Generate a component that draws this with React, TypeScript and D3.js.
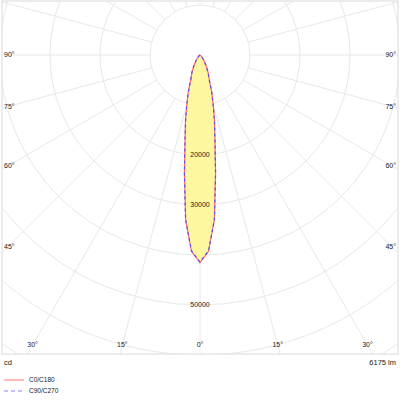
import React from 'react';
import * as d3 from 'd3';

// polar angles (deg from nadir) and luminous intensity (cd)
const angles = [0, 2.5, 5, 7.5, 10, 12.5, 15, 17.5, 20, 25, 30, 35, 40, 45, 50, 60, 70, 80, 90];
const c0c180 = [41500, 39300, 33000, 23800, 17300, 13400, 10200, 7800, 5600, 3800, 2400, 1400, 800, 450, 250, 80, 20, 5, 0];
const c90c270 = [41400, 39200, 33100, 23900, 17200, 13300, 10100, 7700, 5600, 3800, 2400, 1400, 800, 450, 250, 80, 20, 5, 0];

const ringValues = [10000, 20000, 30000, 40000, 50000, 60000, 70000];
const ringLabels = [20000, 30000, 50000];
const spokeAngles = d3.range(0, 360, 15);
const sideLabels = [90, 75, 60, 45];
const bottomLabels = [-30, -15, 0, 15, 30];

const legend = [
  { name: 'C0/C180', color: '#ff8a8a', dash: undefined },
  { name: 'C90/C270', color: '#8a84ff', dash: '4,3' },
];

const W = 400;
const H = 400;
const box = { x0: 2, y0: 1, x1: 398, y1: 354 };
const cx = 200;
const cy = 55;
const font = '"Liberation Sans", Arial, sans-serif';

const App: React.FC = () => {
  const r = d3.scaleLinear().domain([0, 10000]).range([0, 50]);
  const rad = (d: number) => (d * Math.PI) / 180;

  const curve = (vals: number[]) => {
    const pts: [number, number][] = [];
    for (let i = angles.length - 1; i >= 0; i--) pts.push([Math.PI + rad(angles[i]), r(vals[i])]);
    for (let i = 1; i < angles.length; i++) pts.push([Math.PI - rad(angles[i]), r(vals[i])]);
    return d3.lineRadial().curve(d3.curveLinear)(pts) || '';
  };

  // where a spoke (angle from nadir) meets a vertical / horizontal offset from the centre
  const sideY = (deg: number, dx: number) => cy + (dx / Math.sin(rad(deg))) * Math.cos(rad(deg));
  const bottomX = (deg: number, dy: number) => cx + dy * Math.tan(rad(deg));

  const txt = { fontFamily: font, fontSize: 7, fill: '#222' };

  return (
    <svg width={W} height={H} style={{ position: 'absolute', left: 0, top: 0, background: '#fff' }}>
      <defs>
        <clipPath id="plot">
          <rect x={box.x0} y={box.y0} width={box.x1 - box.x0} height={box.y1 - box.y0} />
        </clipPath>
      </defs>
      <g clipPath="url(#plot)">
        {ringValues.map(v => (
          <circle key={v} cx={cx} cy={cy} r={r(v)} fill="none" stroke="#e8e8e8" strokeWidth={1} />
        ))}
        {spokeAngles.map(a => (
          <line
            key={a}
            x1={cx + r(10000) * Math.sin(rad(a))}
            y1={cy + r(10000) * Math.cos(rad(a))}
            x2={cx + 600 * Math.sin(rad(a))}
            y2={cy + 600 * Math.cos(rad(a))}
            stroke="#e8e8e8"
            strokeWidth={1}
          />
        ))}
        <g transform={`translate(${cx},${cy})`}>
          <path d={curve(c0c180)} fill="#fdf7a0" stroke="none" />
          <path d={curve(c0c180)} fill="none" stroke="#ff6a6a" strokeWidth={1.2} />
          <path d={curve(c90c270)} fill="none" stroke="#5a4cf0" strokeWidth={1.2} strokeDasharray="3,3" />
        </g>
        {ringLabels.map(v => (
          <text key={v} x={cx} y={cy + r(v)} dy="0.35em" textAnchor="middle" {...txt}>
            {v}
          </text>
        ))}
      </g>
      <rect x={box.x0} y={box.y0} width={box.x1 - box.x0} height={box.y1 - box.y0} fill="none" stroke="#e6e6e6" strokeWidth={1.5} />

      {sideLabels.map(a => (
        <g key={a}>
          <text x={4} y={sideY(a, 192)} dy="0.35em" {...txt}>{a}°</text>
          <text x={396} y={sideY(a, 192)} dy="0.35em" textAnchor="end" {...txt}>{a}°</text>
        </g>
      ))}
      {bottomLabels.map(a => (
        <text key={a} x={bottomX(a, 290)} y={cy + 290} dy="0.35em" textAnchor="middle" {...txt}>
          {Math.abs(a)}°
        </text>
      ))}

      <text x={4} y={362} dy="0.35em" {...txt} fontSize={7.5}>cd</text>
      <text x={396} y={362} dy="0.35em" textAnchor="end" {...txt} fontSize={7.5}>6175 lm</text>

      {legend.map((l, i) => (
        <g key={l.name} transform={`translate(4,${380 + i * 11})`}>
          <line x1={0} x2={20} y1={0} y2={0} stroke={l.color} strokeWidth={1.2} strokeDasharray={l.dash} />
          <text x={25} y={0} dy="0.35em" {...txt} fontSize={6.5}>{l.name}</text>
        </g>
      ))}
    </svg>
  );
};

export default App;
